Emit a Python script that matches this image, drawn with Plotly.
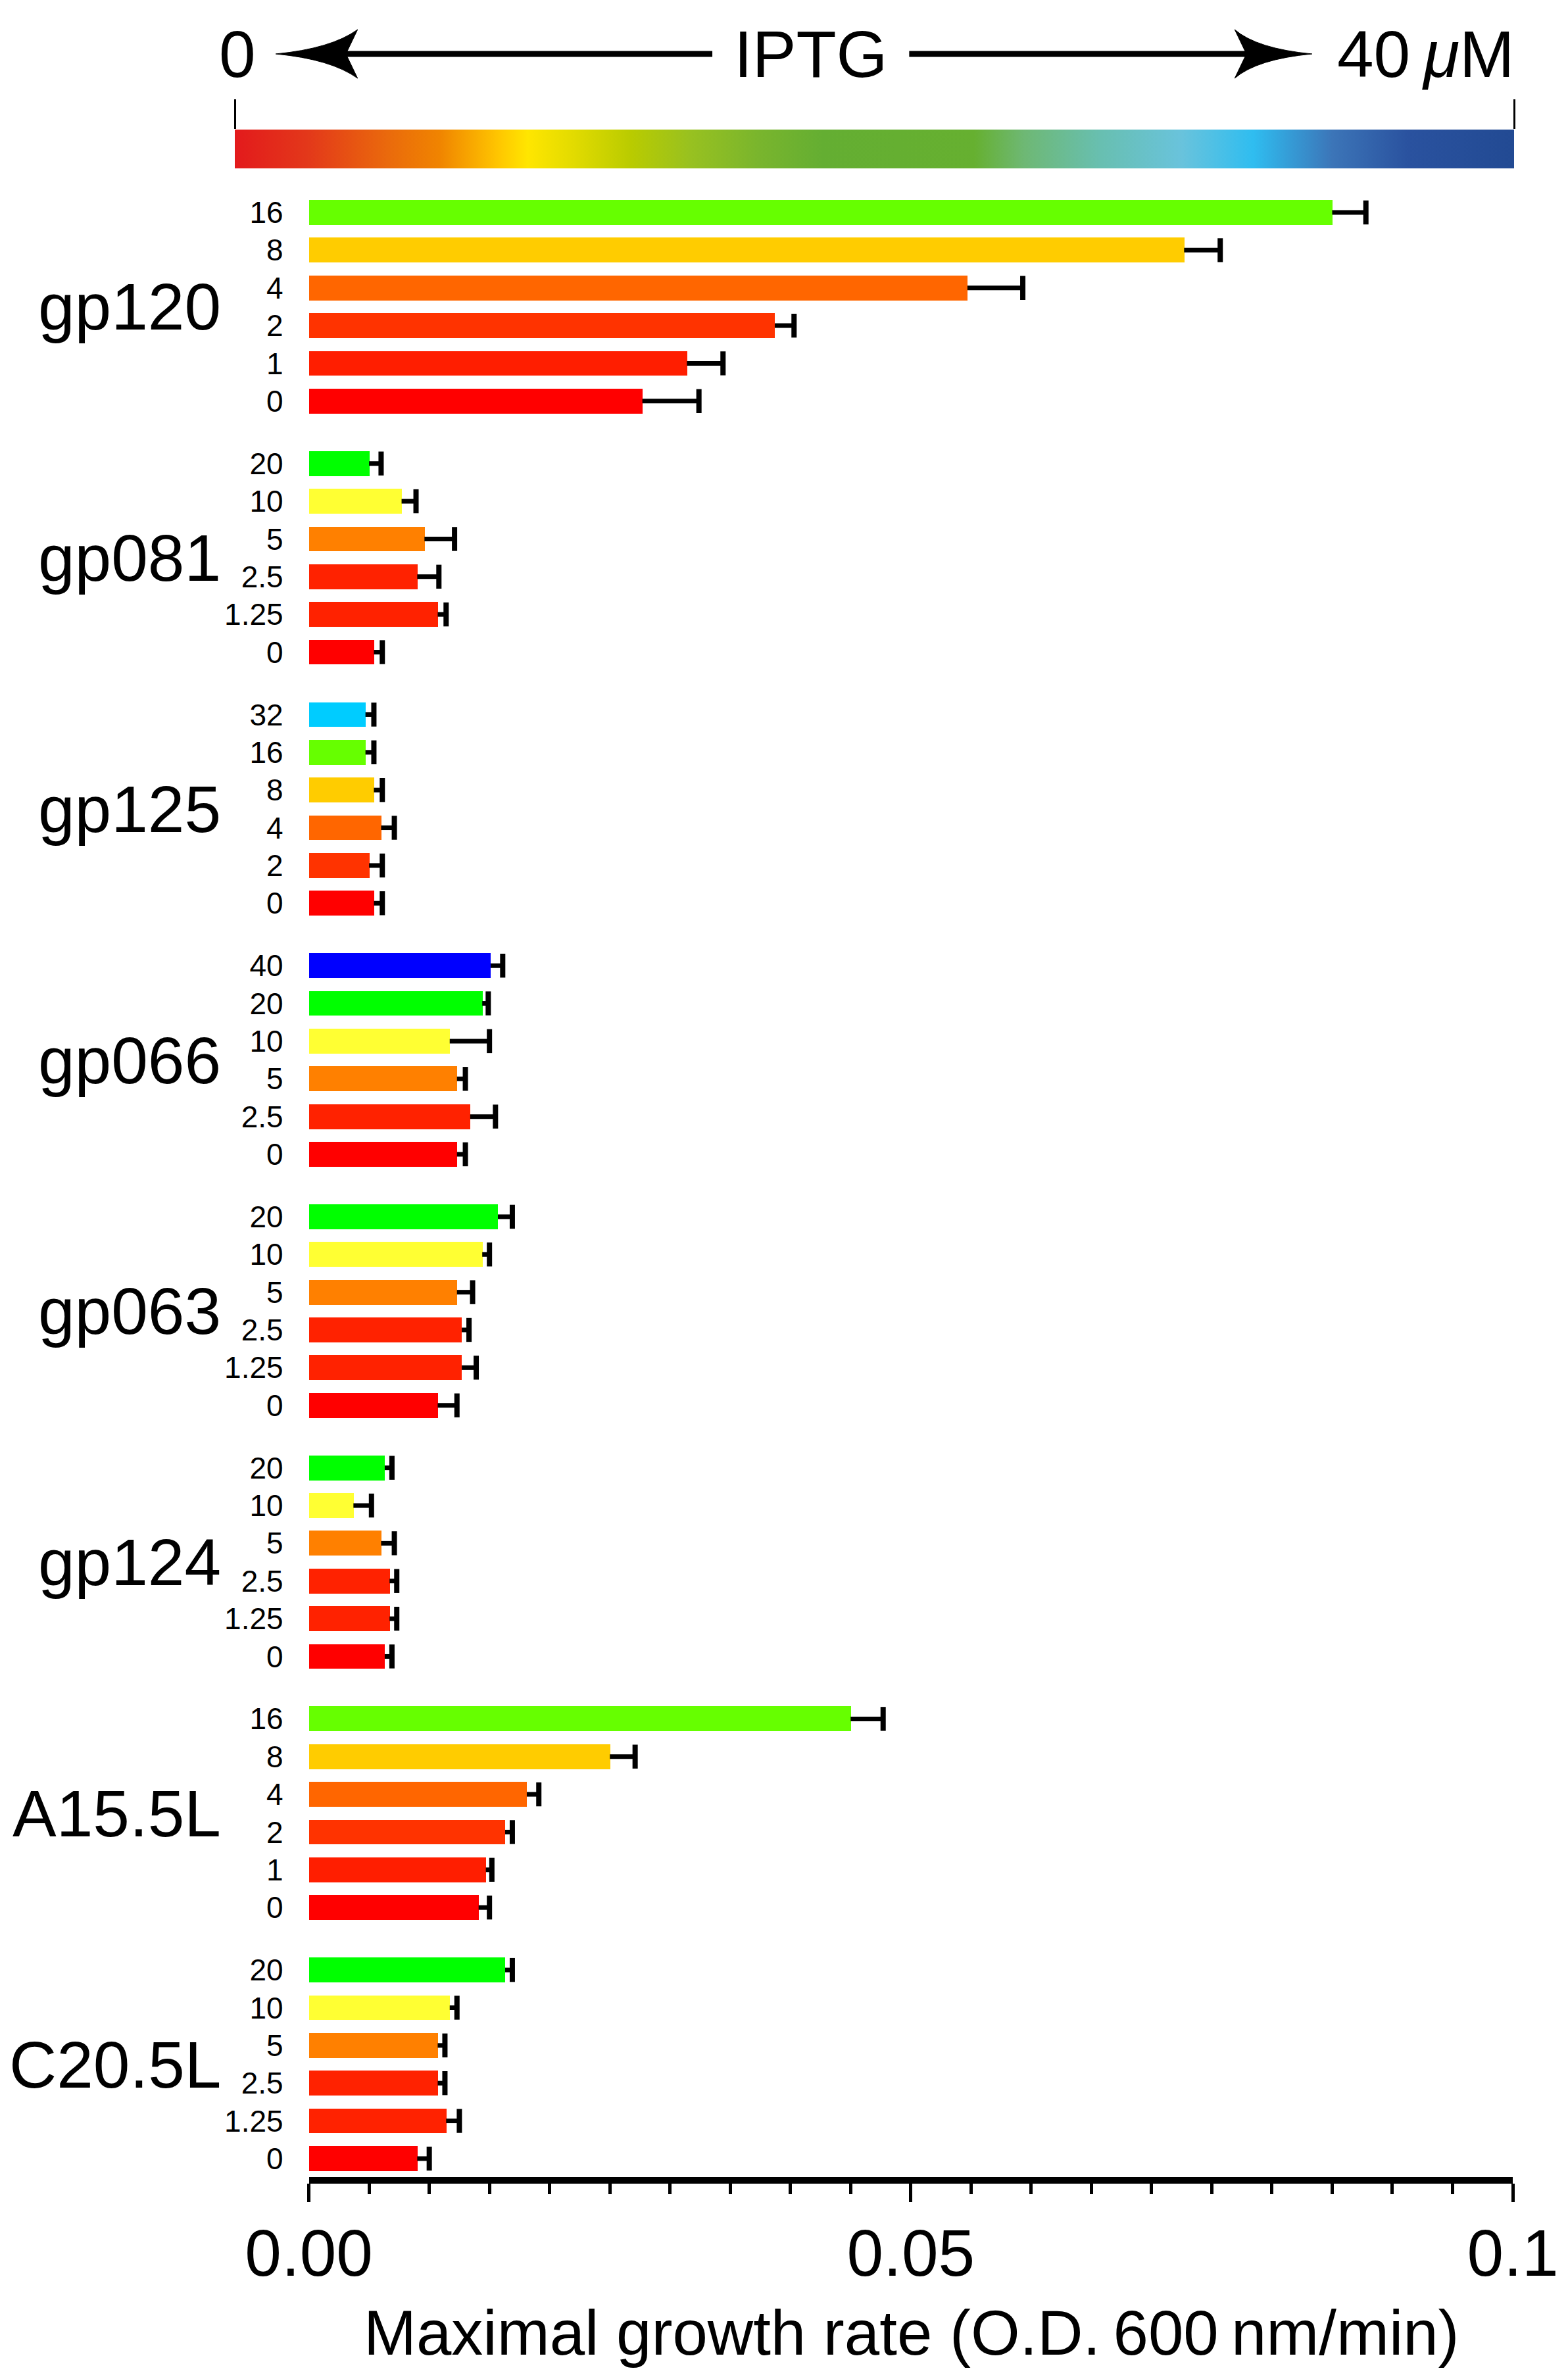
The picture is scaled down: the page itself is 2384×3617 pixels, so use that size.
import plotly.graph_objects as go

# ---- data ----
groups = ["gp120", "gp081", "gp125", "gp066", "gp063", "gp124", "A15.5L", "C20.5L"]

iptg = {
    "gp120": ["16", "8", "4", "2", "1", "0"],
    "gp081": ["20", "10", "5", "2.5", "1.25", "0"],
    "gp125": ["32", "16", "8", "4", "2", "0"],
    "gp066": ["40", "20", "10", "5", "2.5", "0"],
    "gp063": ["20", "10", "5", "2.5", "1.25", "0"],
    "gp124": ["20", "10", "5", "2.5", "1.25", "0"],
    "A15.5L": ["16", "8", "4", "2", "1", "0"],
    "C20.5L": ["20", "10", "5", "2.5", "1.25", "0"],
}

rate_gp120 = [0.0850, 0.0727, 0.0547, 0.0387, 0.0314, 0.0277]
err_gp120 = [0.0028, 0.0030, 0.0046, 0.0016, 0.0030, 0.0047]
rate_gp081 = [0.0050, 0.0077, 0.0096, 0.0090, 0.0107, 0.0054]
err_gp081 = [0.0010, 0.0012, 0.0025, 0.0018, 0.0007, 0.0007]
rate_gp125 = [0.0047, 0.0047, 0.0054, 0.0060, 0.0050, 0.0054]
err_gp125 = [0.0007, 0.0007, 0.0007, 0.0011, 0.0011, 0.0007]
rate_gp066 = [0.0151, 0.0144, 0.0117, 0.0123, 0.0134, 0.0123]
err_gp066 = [0.0010, 0.0005, 0.0033, 0.0007, 0.0021, 0.0007]
rate_gp063 = [0.0157, 0.0144, 0.0123, 0.0127, 0.0127, 0.0107]
err_gp063 = [0.0012, 0.0006, 0.0013, 0.0006, 0.0012, 0.0016]
rate_gp124 = [0.0063, 0.0037, 0.0060, 0.0067, 0.0067, 0.0063]
err_gp124 = [0.0006, 0.0015, 0.0011, 0.0006, 0.0006, 0.0006]
rate_a155 = [0.0450, 0.0250, 0.0181, 0.0163, 0.0147, 0.0141]
err_a155 = [0.0027, 0.0021, 0.0010, 0.0006, 0.0005, 0.0009]
rate_c205 = [0.0163, 0.0117, 0.0107, 0.0107, 0.0114, 0.0090]
err_c205 = [0.0006, 0.0006, 0.0006, 0.0006, 0.0011, 0.0010]

rates = {"gp120": rate_gp120, "gp081": rate_gp081, "gp125": rate_gp125,
         "gp066": rate_gp066, "gp063": rate_gp063, "gp124": rate_gp124,
         "A15.5L": rate_a155, "C20.5L": rate_c205}
errors = {"gp120": err_gp120, "gp081": err_gp081, "gp125": err_gp125,
          "gp066": err_gp066, "gp063": err_gp063, "gp124": err_gp124,
          "A15.5L": err_a155, "C20.5L": err_c205}

# colour used for each IPTG concentration (uM)
conc_colors = {
    "0": "#FF0000", "1": "#FF1E00", "1.25": "#FF2200", "2": "#FF3300",
    "2.5": "#FF2200", "4": "#FF6600", "5": "#FF8000", "8": "#FFCC00",
    "10": "#FFFF33", "16": "#66FF00", "20": "#00FF00", "32": "#00CCFF",
    "40": "#0000FF",
}

# IPTG colour key
iptg_range = [0, 40]
key_stops = [
    (0.0, "#E31A1C"), (0.057, "#E3381A"), (0.12, "#EA6A0C"), (0.16, "#F08400"),
    (0.206, "#FFC600"), (0.229, "#FFE600"), (0.265, "#E2DB00"), (0.31, "#B9CB00"),
    (0.356, "#98C120"), (0.41, "#79B52D"), (0.46, "#64AE32"), (0.578, "#66B030"),
    (0.617, "#6EB874"), (0.676, "#68BFB0"), (0.74, "#69C3DC"), (0.796, "#2FBDF0"),
    (0.858, "#3C75B8"), (0.917, "#2A529F"), (1.0, "#224A93"),
]

# ---- geometry ----
W, H = 2384, 3617
ML, MR, MT, MB = 357, 58, 150, 307
PW, PH = W - ML - MR, H - MT - MB
FONT = "Liberation Sans, Arial, Helvetica, sans-serif"


def px_x(p):
    return (p - ML) / PW


def px_y(p):
    return (H - MB - p) / PH


GAP = 1.655              # extra space between groups (in bar rows)
PITCH = 5 + GAP
ROW_PX = 57.36
FIRST_BAR_PX = 323
PLOT_TOP_PX = 290

y_top = -(FIRST_BAR_PX - PLOT_TOP_PX) / ROW_PX
y_bot = (H - MB - FIRST_BAR_PX) / ROW_PX

fig = go.Figure()

tickvals, ticktext = [], []
for gi, g in enumerate(groups):
    ys = [gi * PITCH + j for j in range(len(iptg[g]))]
    vals = rates[g]
    errs = errors[g]
    tickvals += ys
    ticktext += iptg[g]
    fig.add_trace(go.Bar(
        x=vals, y=ys, orientation="h", width=0.66,
        marker=dict(color=[conc_colors[c] for c in iptg[g]], line=dict(width=0)),
        name=g, showlegend=False,
    ))
    ex, ey = [], []
    for v, e, y in zip(vals, errs, ys):
        ex += [v, v + e, None]
        ey += [y, y, None]
    fig.add_trace(go.Scatter(
        x=ex, y=ey, mode="lines", line=dict(color="black", width=7),
        showlegend=False, hoverinfo="skip",
    ))
    fig.add_trace(go.Scatter(
        x=[v + e for v, e in zip(vals, errs)], y=ys, mode="markers",
        marker=dict(symbol="line-ns", size=26, line=dict(color="black", width=8)),
        showlegend=False, hoverinfo="skip",
    ))
    fig.add_annotation(
        text=g, xref="paper", yref="y", x=px_x(338), y=gi * PITCH + 2.5,
        xanchor="right", yanchor="middle", showarrow=False,
        font=dict(family=FONT, size=100, color="black"),
    )

# colour key bar on its own axes
fig.add_trace(go.Scatter(
    x=[iptg_range[0], iptg_range[1], iptg_range[1], iptg_range[0], iptg_range[0]],
    y=[0, 0, 1, 1, 0], xaxis="x2", yaxis="y2",
    mode="lines", line=dict(width=0), fill="toself",
    fillgradient=dict(type="horizontal", colorscale=[[s, c] for s, c in key_stops]),
    showlegend=False, hoverinfo="skip",
))

fig.update_layout(
    width=W, height=H,
    margin=dict(l=ML, r=MR, t=MT, b=MB, pad=0),
    paper_bgcolor="white", plot_bgcolor="white",
    font=dict(family=FONT, color="black"),
    bargap=0,
    xaxis=dict(
        domain=[px_x(471), px_x(2324)], range=[0, 0.1], anchor="y",
        tickvals=[0, 0.05, 0.1], ticktext=["0.00", "0.05", "0.1"],
        tickfont=dict(family=FONT, size=100), ticks="outside",
        ticklen=28, tickwidth=5, tickcolor="black",
        minor=dict(dtick=0.005, tick0=0, ticks="outside", ticklen=16,
                   tickwidth=5, tickcolor="black"),
        showline=True, linewidth=10, linecolor="black",
        showgrid=False, zeroline=False, ticklabelstandoff=-8,
        ticklabeloverflow="allow",
    ),
    yaxis=dict(
        domain=[0, px_y(PLOT_TOP_PX)], range=[y_bot, y_top], anchor="x",
        tickvals=tickvals, ticktext=ticktext,
        tickfont=dict(family=FONT, size=46), ticks="",
        showline=False, showgrid=False, zeroline=False,
        ticklabelstandoff=38,
    ),
    xaxis2=dict(
        domain=[0, 1], range=iptg_range, anchor="y2", side="top",
        tickvals=iptg_range, showticklabels=False, ticks="outside",
        ticklen=45, tickwidth=3, tickcolor="black",
        showline=False, showgrid=False, zeroline=False,
    ),
    yaxis2=dict(
        domain=[px_y(256), px_y(197)], range=[0, 1], anchor="x2",
        showticklabels=False, showline=False, showgrid=False, zeroline=False,
    ),
)

# IPTG header: labels and arrows
hdr_font = dict(family=FONT, size=100, color="black")
fig.add_annotation(text="0", xref="paper", yref="paper", x=px_x(361), y=px_y(82),
                   xanchor="center", yanchor="middle", showarrow=False, font=hdr_font)
fig.add_annotation(text="IPTG", xref="paper", yref="paper", x=px_x(1243), y=px_y(82),
                   xanchor="center", yanchor="middle", showarrow=False, font=hdr_font)
fig.add_annotation(text="40\u2009<i>\u03bc</i>M", xref="paper", yref="paper",
                   x=px_x(2328), y=px_y(82), xanchor="right", yanchor="middle",
                   showarrow=False, font=hdr_font)


def head_path(tip, back, half, notch):
    d = 1 if back > tip else -1
    pts = [
        ("M", [(tip, 82)]),
        ("Q", [(tip + d * 85, 82 - 8), (back, 82 - half)]),
        ("L", [(notch, 82)]),
        ("L", [(back, 82 + half)]),
        ("Q", [(tip + d * 85, 82 + 8), (tip, 82)]),
    ]
    s = ""
    for cmd, ps in pts:
        s += cmd + " ".join(f"{px_x(a):.5f},{px_y(b):.5f}" for a, b in ps) + " "
    return s + "Z"


fig.add_shape(type="line", xref="paper", yref="paper",
              x0=px_x(480), x1=px_x(1092), y0=px_y(82), y1=px_y(82),
              line=dict(color="black", width=9))
fig.add_shape(type="line", xref="paper", yref="paper",
              x0=px_x(1395), x1=px_x(1955), y0=px_y(82), y1=px_y(82),
              line=dict(color="black", width=9))
fig.add_shape(type="path", xref="paper", yref="paper",
              path=head_path(420, 546, 37, 528), fillcolor="black",
              line=dict(color="black", width=1))
fig.add_shape(type="path", xref="paper", yref="paper",
              path=head_path(2015, 1896, 37, 1914), fillcolor="black",
              line=dict(color="black", width=1))

fig.add_annotation(
    text="Maximal growth rate (O.D.\u2009600\u2009nm/min)", xref="paper", yref="paper",
    x=px_x(1399), y=px_y(3546), xanchor="center", yanchor="middle",
    showarrow=False, font=dict(family=FONT, size=96, color="black"),
)

# drop the default 8px page margin so the figure sits at the window's top-left
fig.write_html("out.html", config={"displayModeBar": False},
               post_script="document.body.style.margin='0';")
